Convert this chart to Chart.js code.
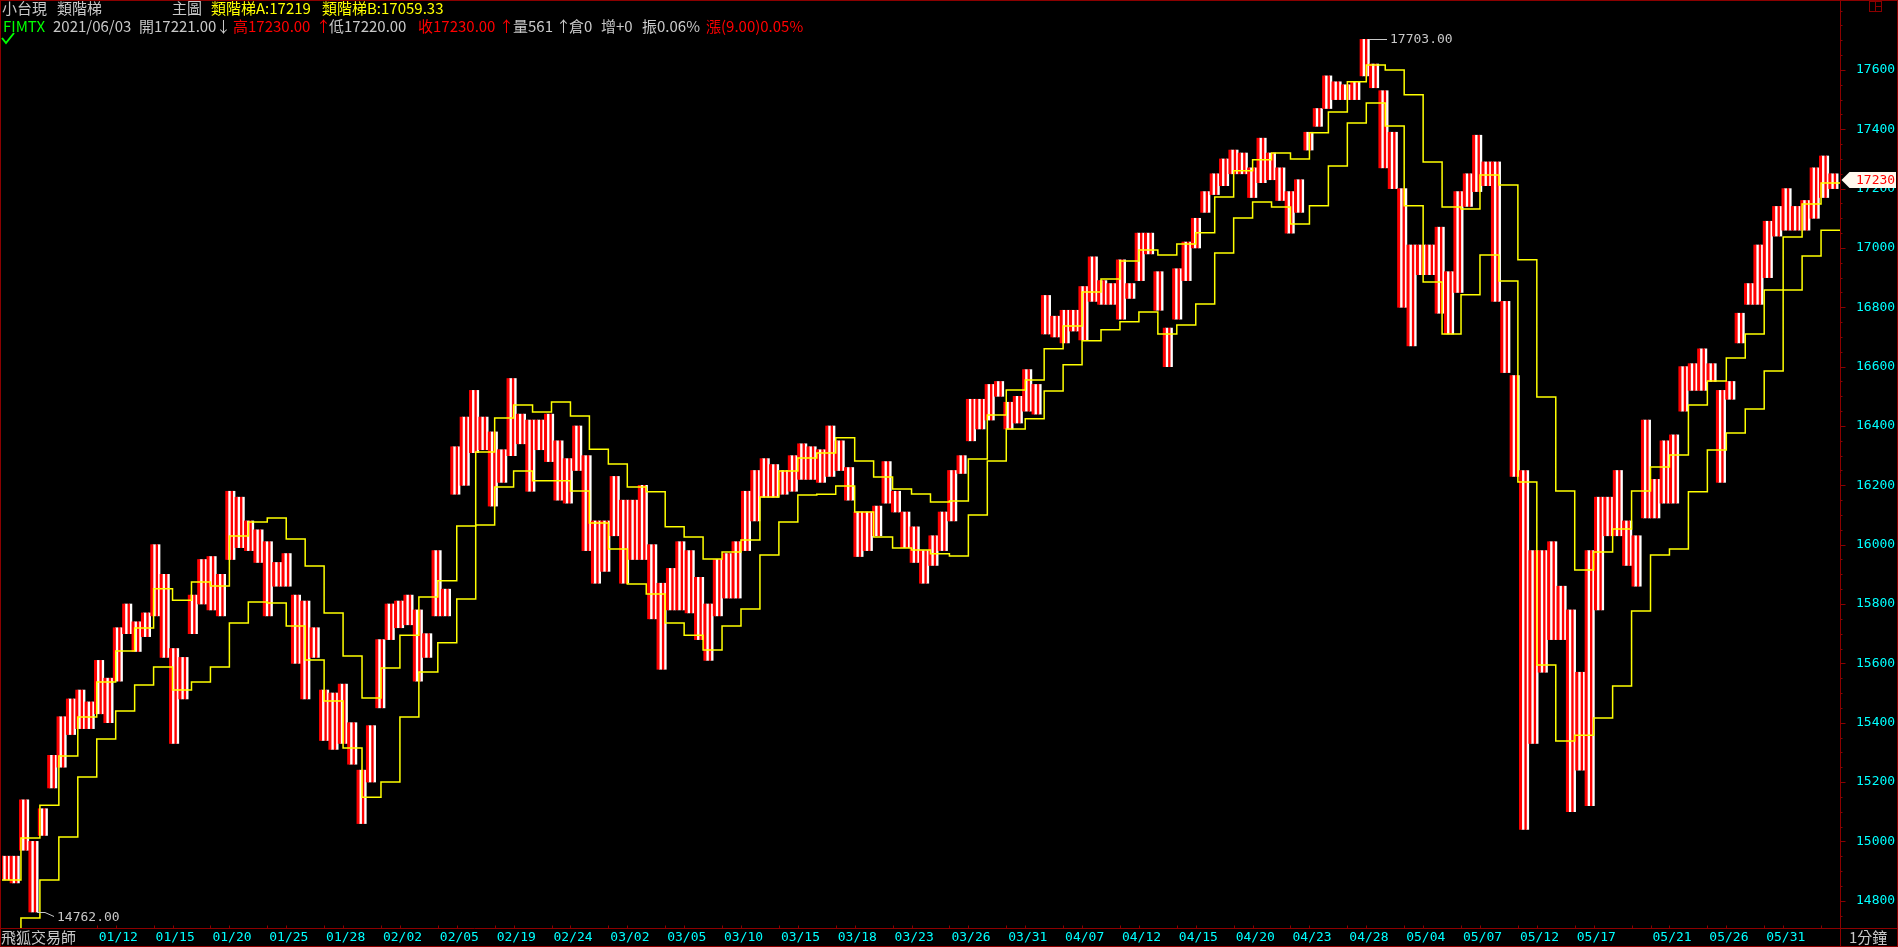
<!DOCTYPE html>
<html>
<head>
<meta charset="utf-8">
<title>小台現 類階梯</title>
<script src="https://cdn.jsdelivr.net/npm/chart.js@4.4.1/dist/chart.umd.min.js"></script>
<style>
  html, body { margin: 0; padding: 0; background: #000; overflow: hidden; }
</style>
</head>
<body>
<canvas id="kchart" width="1898" height="947"></canvas>
<script>
// x axis: trading days from 2021/01/05 (day 0) to 2021/06/03 (day 96)
var tradingDays = 97;
var dateLabels = ['01/12', '01/15', '01/20', '01/25', '01/28', '02/02', '02/05', '02/19', '02/24', '03/02',
                  '03/05', '03/10', '03/15', '03/18', '03/23', '03/26', '03/31', '04/07', '04/12', '04/15',
                  '04/20', '04/23', '04/28', '05/04', '05/07', '05/12', '05/17', '05/21', '05/26', '05/31'];
var dateDays = [5, 8, 11, 14, 17, 20, 23, 26, 29, 32, 35, 38, 41, 44, 47, 50, 53, 56, 59, 62,
                65, 68, 71, 74, 77, 80, 83, 87, 90, 93];
var extraTickDays = [86, 96];

var yTickValues = [14800, 15000, 15200, 15400, 15600, 15800, 16000, 16200, 16400, 16600,
                   16800, 17000, 17200, 17400, 17600];

// price band, one entry per half session (low / high)
var candleLow = [
  14870, 14860, 14970, 14762, 15020, 15180, 15250, 15360, 15380, 15380,
  15430, 15400, 15540, 15700, 15640, 15690, 15760, 15620, 15330, 15480,
  15700, 15800, 15780, 15760, 15950, 15990, 15980, 15940, 15760, 15860,
  15860, 15600, 15480, 15620, 15340, 15310, 15330, 15260, 15060, 15200,
  15450, 15680, 15720, 15730, 15540, 15620, 15760, 15760, 16170, 16200,
  16310, 16320, 16130, 16210, 16300, 16340, 16180, 16320, 16280, 16150,
  16140, 16250, 15980, 15870, 15910, 16030, 15870, 15950, 15950, 15750,
  15580, 15780, 15780, 15770, 15680, 15610, 15760, 15820, 15820, 15980,
  16080, 16160, 16160, 16170, 16180, 16220, 16220, 16210, 16230, 16250,
  16150, 15960, 15980, 16030, 16140, 16110, 15990, 15940, 15870, 15930,
  15980, 16080, 16240, 16350, 16390, 16420, 16500, 16390, 16410, 16450,
  16440, 16710, 16700, 16680, 16720, 16690, 16820, 16810, 16810, 16760,
  16830, 16890, 16980, 16790, 16600, 16760, 16890, 17000, 17120, 17180,
  17210, 17250, 17250, 17170, 17220, 17230, 17160, 17050, 17120, 17330,
  17410, 17470, 17500, 17500, 17500, 17580, 17540, 17270, 17200, 16800,
  16670, 16910, 16910, 16780, 16710, 16850, 17140, 17190, 17210, 16820,
  16580, 16230, 15040, 15330, 15570, 15680, 15680, 15100, 15240, 15120,
  15780, 16030, 16030, 15930, 15860, 16090, 16090, 16140, 16140, 16450,
  16520, 16520, 16550, 16210, 16490, 16680, 16810, 16810, 16900, 17040,
  17060, 17060, 17060, 17100, 17170, 17200
];
var candleHigh = [
  14950, 14950, 15140, 15000, 15110, 15290, 15420, 15480, 15510, 15470,
  15610, 15550, 15720, 15800, 15740, 15770, 16000, 15900, 15650, 15620,
  15830, 15950, 15960, 15900, 16180, 16160, 16080, 16050, 16010, 15940,
  15970, 15830, 15810, 15720, 15510, 15500, 15530, 15400, 15240, 15390,
  15680, 15800, 15810, 15830, 15780, 15700, 15980, 15850, 16330, 16430,
  16520, 16430, 16380, 16320, 16560, 16440, 16420, 16420, 16440, 16350,
  16290, 16400, 16300, 16080, 16080, 16230, 16150, 16150, 16200, 16000,
  15870, 15920, 16010, 15980, 15890, 15800, 15950, 15970, 16010, 16180,
  16250, 16290, 16270, 16250, 16300, 16340, 16330, 16320, 16400, 16350,
  16260, 16110, 16110, 16130, 16280, 16180, 16110, 16060, 15980, 16030,
  16110, 16250, 16300, 16490, 16490, 16540, 16550, 16480, 16500, 16590,
  16540, 16840, 16770, 16790, 16790, 16870, 16970, 16890, 16880, 16960,
  16880, 17050, 17050, 16920, 16730, 16930, 17020, 17100, 17190, 17250,
  17300, 17330, 17320, 17270, 17370, 17320, 17270, 17190, 17230, 17390,
  17470, 17580, 17560, 17550, 17560, 17703, 17620, 17530, 17390, 17200,
  17010, 17010, 17010, 17070, 16920, 17190, 17250, 17380, 17290, 17290,
  16820, 16570, 16250, 15980, 15980, 16010, 15860, 15780, 15570, 15980,
  16160, 16160, 16250, 16080, 16030, 16420, 16220, 16350, 16370, 16600,
  16610, 16660, 16610, 16520, 16550, 16780, 16880, 17010, 17090, 17140,
  17200, 17140, 17160, 17270, 17310, 17250
];

// the two step lines, one value per trading day
var stepA = [
  14870, 15011, 15122, 15288, 15419, 15537, 15642, 15719, 15851, 15813,
  15874, 15861, 16029, 16076, 16090, 16019, 15928, 15770, 15625, 15483,
  15584, 15695, 15824, 15878, 16063, 16312, 16427, 16471, 16447, 16481,
  16434, 16322, 16272, 16194, 16178, 16060, 16026, 15952, 15975, 16016,
  16161, 16248, 16292, 16309, 16360, 16282, 16228, 16188, 16171, 16144,
  16147, 16289, 16437, 16521, 16555, 16660, 16737, 16852, 16895, 16956,
  16993, 16976, 17013, 17051, 17172, 17260, 17297, 17320, 17300, 17388,
  17458, 17560, 17617, 17600, 17516, 17290, 17138, 17131, 17246, 17212,
  16960, 16498, 16181, 15915, 15975, 16053, 16181, 16262, 16302, 16471,
  16552, 16629, 16710, 16858, 17037, 17148, 17219
];
var stepB = [
  14650, 14742, 14870, 15015, 15217, 15345, 15439, 15527, 15588, 15510,
  15537, 15588, 15736, 15807, 15803, 15726, 15611, 15473, 15315, 15149,
  15200, 15419, 15571, 15669, 15817, 16066, 16194, 16248, 16215, 16215,
  16181, 16073, 15985, 15867, 15834, 15736, 15695, 15645, 15726, 15783,
  15965, 16076, 16167, 16170, 16198, 16110, 16026, 15989, 15982, 15969,
  15962, 16100, 16282, 16390, 16424, 16518, 16606, 16687, 16724, 16751,
  16784, 16710, 16740, 16811, 16983, 17101, 17155, 17138, 17081, 17142,
  17276, 17421, 17489, 17411, 17142, 16885, 16710, 16842, 16976, 16889,
  16211, 15594, 15338, 15358, 15416, 15524, 15776, 15965, 15985, 16178,
  16319, 16376, 16457, 16585, 16858, 16973, 17059.33
];

var lastOpen = 17221, lastHigh = 17230, lastLow = 17220, lastClose = 17230;

var RED = '#ff0000', WHITE = '#ffffff', YELLOW = '#ffff00', CYAN = '#00ffff';
var GREY = '#c8c8c8', GREEN = '#00ff00', FRAME = '#8b0000';
var MONO = '"DejaVu Sans Mono", "Liberation Mono", monospace';
var CJK = '"Noto Sans CJK TC", "Noto Sans CJK SC", sans-serif';

function stepPoints(arr) {
  var pts = arr.map(function (v, d) { return {x: d, y: v}; });
  pts.push({x: tradingDays, y: arr[arr.length - 1]});
  return pts;
}

// each half session is drawn as thin alternating red / white strokes
function stroke(label, colour) {
  return {type: 'bar', label: label, xAxisID: 'xc', yAxisID: 'y',
          data: candleLow.map(function (lo, k) { return {x: k, y: [lo, candleHigh[k]]}; }),
          backgroundColor: colour, barThickness: 2.35, order: 1};
}

var headerLines = [
  {y: 8, parts: [
    [2, '小台現', GREY], [57, '類階梯', GREY], [172, '主圖', GREY],
    [211, '類階梯A:' + stepA[stepA.length - 1], YELLOW],
    [322, '類階梯B:' + stepB[stepB.length - 1].toFixed(2), YELLOW]]},
  {y: 26, parts: [
    [3, 'FIMTX', GREEN], [53, '2021/06/03', GREY], [139, '開' + lastOpen.toFixed(2), GREY],
    [216, '↓', GREY], [233, '高' + lastHigh.toFixed(2), RED], [316, '↑', RED],
    [329, '低' + lastLow.toFixed(2), GREY], [418, '收' + lastClose.toFixed(2), RED], [499, '↑', RED],
    [513, '量561', GREY], [556, '↑', GREY], [569, '倉0', GREY], [601, '增+0', GREY],
    [642, '振0.06%', GREY], [706, '漲(9.00)0.05%', RED]]}
];

var decor = {
  id: 'decor',
  beforeDraw: function (chart) {
    var c = chart.ctx;
    c.save();
    c.fillStyle = '#000';
    c.fillRect(0, 0, chart.width, chart.height);
    c.restore();
  },
  afterDraw: function (chart) {
    var c = chart.ctx, a = chart.chartArea;
    var xs = chart.scales.x, ys = chart.scales.y, xc = chart.scales.xc;
    var W = chart.width, H = chart.height;
    var bottom = Math.round(a.bottom) + 0.5, right = Math.round(a.right) + 0.5;
    c.save();

    // frame, bottom axis line, price axis line
    c.strokeStyle = FRAME;
    c.lineWidth = 1;
    c.strokeRect(0.5, 0.5, W - 1, H - 1);
    c.beginPath();
    c.moveTo(0, bottom); c.lineTo(W, bottom);
    c.moveTo(right, 0); c.lineTo(right, H);
    // price ticks every 50, long ones on the labelled values
    for (var v = Math.ceil(ys.min / 50) * 50; v <= ys.max; v += 50) {
      var py = Math.round(ys.getPixelForValue(v)) + 0.5;
      c.moveTo(right, py);
      c.lineTo(right + (yTickValues.indexOf(v) >= 0 ? 5 : 2), py);
    }
    // day ticks
    var tickDays = dateDays.concat(dateDays.map(function (d) { return d + 1; }), extraTickDays);
    tickDays.forEach(function (d) {
      var px = Math.round(xs.getPixelForValue(d)) + 0.5;
      c.moveTo(px, bottom - 3); c.lineTo(px, bottom);
    });
    c.stroke();

    // top right box icon
    c.strokeRect(1869.5, 1.5, 12, 10);
    c.beginPath();
    c.moveTo(1875.5, 1.5); c.lineTo(1875.5, 11.5);
    c.moveTo(1875.5, 6.5); c.lineTo(1881.5, 6.5);
    c.stroke();

    // header
    c.textBaseline = 'middle';
    c.textAlign = 'left';
    c.font = '15px ' + CJK;
    headerLines.forEach(function (line) {
      line.parts.forEach(function (p) {
        c.fillStyle = p[2];
        c.fillText(p[1], p[0], line.y);
      });
    });

    // green check
    c.strokeStyle = GREEN;
    c.lineWidth = 2;
    c.beginPath();
    c.moveTo(2, 38); c.lineTo(6, 43); c.lineTo(14, 33);
    c.stroke();

    // highest / lowest marks
    var hiMax = Math.max.apply(null, candleHigh), kMax = candleHigh.indexOf(hiMax);
    var loMin = Math.min.apply(null, candleLow), kMin = candleLow.indexOf(loMin);
    c.strokeStyle = GREY;
    c.lineWidth = 1;
    c.font = '13px ' + MONO;
    c.fillStyle = GREY;
    var hx = Math.round(xc.getPixelForValue(kMax)) + 2, hy = Math.round(ys.getPixelForValue(hiMax)) + 0.5;
    c.beginPath(); c.moveTo(hx, hy); c.lineTo(hx + 18, hy); c.stroke();
    c.fillText(hiMax.toFixed(2), hx + 21, hy);
    var lx = Math.round(xc.getPixelForValue(kMin)) + 1, ly = Math.round(ys.getPixelForValue(loMin)) + 0.5;
    c.beginPath(); c.moveTo(lx, ly); c.lineTo(lx + 8, ly); c.lineTo(lx + 17, ly + 4); c.stroke();
    c.fillText(loMin.toFixed(2), lx + 20, ly + 5);

    // last price marker on the price axis
    var cy = Math.round(ys.getPixelForValue(lastClose));
    c.fillStyle = '#fff8ee';
    c.beginPath();
    c.moveTo(right + 1, cy); c.lineTo(right + 9, cy - 8); c.lineTo(W - 2, cy - 8);
    c.lineTo(W - 2, cy + 8); c.lineTo(right + 9, cy + 8); c.closePath();
    c.fill();
    c.fillStyle = RED;
    c.font = '13px ' + MONO;
    c.fillText(String(lastClose), 1856, cy + 1);

    // bottom corner captions
    c.font = '15px ' + CJK;
    c.fillStyle = GREY;
    c.fillText('飛狐交易師', 1, 937);
    c.fillText('1分鐘', 1849, 937);
    c.restore();
  }
};

new Chart(document.getElementById('kchart'), {
  data: {
    datasets: [
      {type: 'line', label: '類階梯A', data: stepPoints(stepA), xAxisID: 'x', yAxisID: 'y',
       stepped: 'before', borderColor: YELLOW, borderWidth: 1.5, pointRadius: 0, fill: false, order: 0},
      {type: 'line', label: '類階梯B', data: stepPoints(stepB), xAxisID: 'x', yAxisID: 'y',
       stepped: 'before', borderColor: YELLOW, borderWidth: 1.5, pointRadius: 0, fill: false, order: 0},
      stroke('up1', RED), stroke('down1', WHITE), stroke('up2', RED), stroke('down2', WHITE)
    ]
  },
  options: {
    responsive: false,
    devicePixelRatio: 1,
    animation: false,
    events: [],
    layout: {padding: {top: 2, left: 2, right: 0, bottom: 0}},
    plugins: {legend: {display: false}, tooltip: {enabled: false}},
    scales: {
      x: {
        type: 'linear', position: 'bottom', min: 0, max: tradingDays,
        grid: {display: false, drawTicks: false}, border: {display: false},
        afterFit: function (s) { s.height = 19; s.paddingLeft = 0; s.paddingRight = 0; },
        afterBuildTicks: function (s) { s.ticks = dateDays.map(function (d) { return {value: d}; }); },
        ticks: {
          autoSkip: false, maxRotation: 0, align: 'start', padding: 2, labelOffset: 2,
          color: CYAN, font: {family: MONO, size: 13},
          callback: function (v) { var i = dateDays.indexOf(v); return i >= 0 ? dateLabels[i] : ''; }
        }
      },
      xc: {type: 'linear', display: false, offset: false, min: -0.607, max: 195.45},
      y: {
        type: 'linear', position: 'right', min: 14708, max: 17829,
        grid: {display: false, drawTicks: false}, border: {display: false},
        afterFit: function (s) { s.width = 58; s.paddingTop = 0; s.paddingBottom = 0; },
        afterBuildTicks: function (s) { s.ticks = yTickValues.map(function (v) { return {value: v}; }); },
        ticks: {color: CYAN, padding: 16, font: {family: MONO, size: 13},
                callback: function (v) { return String(v); }}
      }
    }
  },
  plugins: [decor]
});
</script>
</body>
</html>
